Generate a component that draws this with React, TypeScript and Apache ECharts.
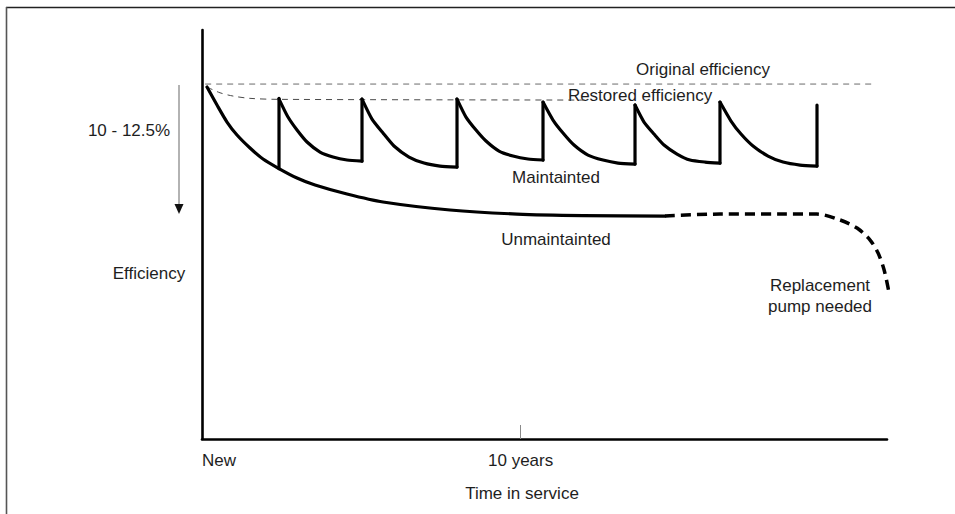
import React, { useEffect, useRef } from "react";
import * as echarts from "echarts";

// x: years in service, y: relative efficiency (original = ~100)
const xLabelValues = [0, 10];
const xLabelTexts = ["New", "10 years"];
const xTickValues = [10];

const originalEfficiency = [[0.1, 99.8], [21.03, 99.8]];
const restoredEfficiency = [
  [0.157, 98.96], [0.565, 97.35], [0.973, 96.43], [1.507, 95.78], [2.417, 95.5], [12.02, 95.3],
];
const unmaintained = [
  [0.157, 98.96], [0.471, 93.9], [0.785, 89.12], [1.099, 85.46], [1.507, 81.81], [1.915, 78.72],
  [2.385, 76.19], [2.982, 73.38], [3.547, 71.41], [4.551, 68.88], [5.681, 66.63], [7.784, 64.38],
  [9.887, 63.25], [11.958, 62.83], [14.532, 62.69],
];
const unmaintainedProjected = [
  [14.532, 62.69], [16.26, 63.25], [18.14, 63.25], [19.3, 63.25], [20.03, 61.57], [20.56, 59.32],
  [20.97, 55.94], [21.22, 52.29], [21.41, 47.51], [21.56, 41.33],
];
const decay1 = [[2.417, 95.58], [2.699, 90.52], [2.982, 86.87], [3.296, 83.5], [3.704, 80.69], [4.112, 79.28], [4.551, 78.44], [5.022, 78.15]];
const decay2 = [[5.022, 95.58], [5.336, 89.96], [5.681, 86.03], [6.026, 82.37], [6.497, 79.28], [6.968, 77.59], [7.47, 76.75], [8.004, 76.47]];
const decay3 = [[8.004, 95.58], [8.286, 90.52], [8.6, 86.87], [8.914, 83.78], [9.322, 80.97], [9.761, 79.56], [10.232, 78.72], [10.703, 78.44]];
const decay4 = [[10.703, 94.74], [11.017, 89.68], [11.331, 86.03], [11.676, 82.65], [12.115, 79.84], [12.586, 78.44], [13.057, 77.59], [13.591, 77.31]];
const decay5 = [[13.591, 93.9], [13.873, 89.12], [14.187, 85.74], [14.501, 82.65], [14.909, 80.12], [15.317, 78.44], [15.788, 77.87], [16.258, 77.59]];
const decay6 = [[16.258, 94.74], [16.604, 89.4], [16.918, 85.74], [17.295, 82.37], [17.766, 79.56], [18.236, 77.87], [18.769, 77.03], [19.303, 76.75]];
// maintenance resets: [year, efficiency before, efficiency after]
const resets = [
  [2.417, 76.0, 95.78], [5.022, 78.15, 95.58], [8.004, 76.47, 95.58], [10.703, 78.44, 94.74],
  [13.591, 77.31, 93.9], [16.258, 77.59, 94.74], [19.303, 76.75, 93.9],
];

const FONT = "'Liberation Sans', Arial, Helvetica, sans-serif";
const TXT = "#1e1e1e";

export default function App() {
  const ref = useRef<HTMLDivElement>(null);
  useEffect(() => {
    if (!ref.current) return;
    const chart = echarts.init(ref.current, undefined, { renderer: "svg" });
    const decays = [decay1, decay2, decay3, decay4, decay5, decay6];
    const solid = { color: "#000", width: 3.2, cap: "round", join: "round" };
    const series: any[] = [
      {
        type: "line", data: originalEfficiency, symbol: "none", silent: true,
        lineStyle: { color: "#6a6a6a", width: 1, type: [6, 5] },
      },
      {
        type: "line", data: restoredEfficiency, symbol: "none", smooth: 0.3, silent: true,
        lineStyle: { color: "#4a4a4a", width: 1, type: [6, 5] },
      },
      { type: "line", data: unmaintained, symbol: "none", smooth: 0.25, lineStyle: solid },
      {
        type: "line", data: unmaintainedProjected, symbol: "none", smooth: 0.3, clip: false,
        lineStyle: { color: "#000", width: 3.5, type: [10, 6] },
      },
    ];
    decays.forEach((d) =>
      series.push({ type: "line", data: d, symbol: "none", smooth: 0.2, lineStyle: solid })
    );
    resets.forEach((r) =>
      series.push({
        type: "line", data: [[r[0], r[1]], [r[0], r[2]]], symbol: "none", lineStyle: solid,
      })
    );
    const label = (text: string, x: number, y: number) => ({
      type: "text", x, y,
      style: { text, font: `17px ${FONT}`, fill: TXT, align: "center", verticalAlign: "middle" },
    });
    chart.setOption({
      animation: false,
      grid: { left: 202, right: 68, top: 30, bottom: 75 },
      xAxis: {
        type: "value", min: 0, max: 21.5, interval: 10,
        splitLine: { show: false },
        axisLine: { lineStyle: { color: "#000", width: 2.6 } },
        axisTick: {
          show: true, customValues: xTickValues, inside: true, length: 14,
          lineStyle: { color: "#8a8a8a", width: 1 },
        },
        axisLabel: {
          customValues: xLabelValues, margin: 13, alignMinLabel: "left",
          fontFamily: FONT, fontSize: 17, color: TXT,
          formatter: (v: number) => xLabelTexts[xLabelValues.indexOf(v)] ?? "",
        },
      },
      yAxis: {
        type: "value", min: 0, max: 115, splitLine: { show: false },
        axisLine: { show: true, lineStyle: { color: "#000", width: 2.6 } },
        axisTick: { show: false }, axisLabel: { show: false },
      },
      series,
      graphic: [
        { type: "line", shape: { x1: 6, y1: 7.5, x2: 955, y2: 7.5 }, style: { stroke: "#222", lineWidth: 1.6 } },
        { type: "line", shape: { x1: 6.5, y1: 7, x2: 6.5, y2: 514 }, style: { stroke: "#555", lineWidth: 1.6 } },
        { type: "line", shape: { x1: 179, y1: 85, x2: 179, y2: 206 }, style: { stroke: "#9a9a9a", lineWidth: 1.5 } },
        { type: "polygon", shape: { points: [[174.5, 204], [183.5, 204], [179, 214]] }, style: { fill: "#111" } },
        label("10 - 12.5%", 129, 130),
        label("Efficiency", 149, 273),
        label("Time in service", 522, 493),
        label("Original efficiency", 703, 69),
        label("Restored efficiency", 640, 95),
        label("Maintainted", 556, 177),
        label("Unmaintainted", 556, 239),
        label("Replacement", 820, 285),
        label("pump needed", 820, 306),
      ],
    });
    return () => chart.dispose();
  }, []);
  return (
    <div
      ref={ref}
      style={{ position: "fixed", left: 0, top: 0, width: 955, height: 514, background: "#fff" }}
    />
  );
}
